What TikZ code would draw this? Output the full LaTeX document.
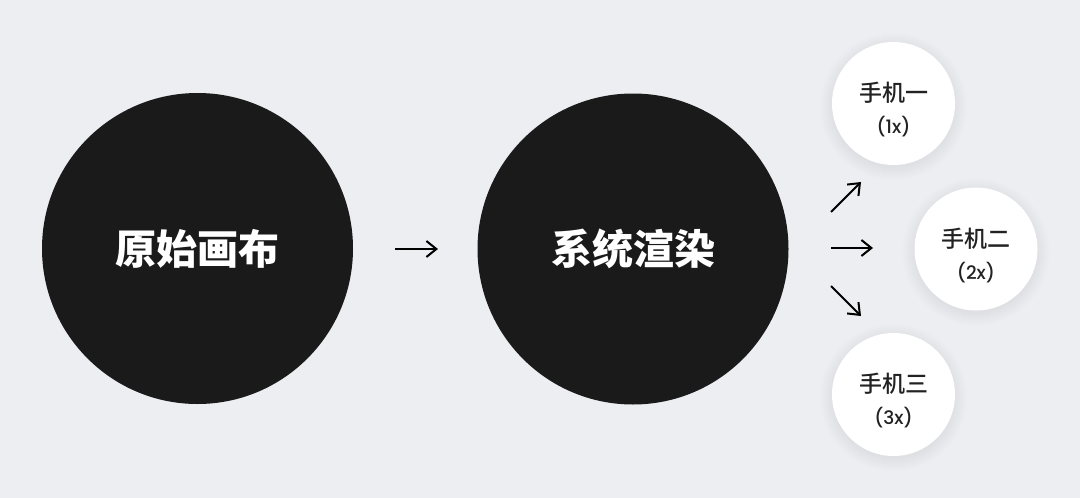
\documentclass[tikz,border=0pt]{standalone}
\usepackage{fontspec}
\usetikzlibrary{arrows.meta}
\newfontfamily\cjk{Noto Sans CJK SC}[UprightFont={* Medium},BoldFont={* Black}]
\newfontfamily\latinfont{Poppins}[UprightFont={* Medium}]
\definecolor{bg}{HTML}{EDEEF2}
\definecolor{dark}{HTML}{1A1A1A}
\definecolor{ink}{HTML}{222222}
\tikzset{
  bigcirc/.style={circle, fill=dark, minimum size=311pt, inner sep=0pt},
  smallcirc/.style={circle, fill=white, minimum size=123pt, inner sep=0pt},
  bigtext/.style={text=white, font=\cjk\bfseries\fontsize{41}{45}\selectfont},
  phonetext/.style={text=ink, font=\cjk\fontsize{23}{26}\selectfont},
  scaletext/.style={text=ink, font=\latinfont\fontsize{18.5}{22}\selectfont},
  arr/.style={draw=black, line width=2pt, -{Straight Barb[length=10pt,width=16pt]}},
}
\begin{document}
\begin{tikzpicture}[x=1pt,y=-1pt]
\useasboundingbox (0,0) rectangle (1080,498);
\fill[bg] (0,0) rectangle (1080,498);
% soft shadows
\foreach \cx/\cy in {893.5/103.5, 976/249, 893.5/394.5}{
  \foreach \r in {1,...,14}{
    \fill[black, opacity=0.005] (\cx,\cy+3) circle (60pt+\r pt);
  }
}
\node[bigcirc] (A) at (197.5,248.5) {};
\node[bigcirc] (B) at (633,249) {};
\node[smallcirc] (P1) at (893.5,103.5) {};
\node[smallcirc] (P2) at (976,249) {};
\node[smallcirc] (P3) at (893.5,394.5) {};
\node[bigtext] (tA) at (A.center) {原始画布};
\node[bigtext] (tB) at (B.center) {系统渲染};
\node[phonetext] (n1) at (893.5,93) {手机一};
\node[scaletext] (s1) at (893.5,127) {(1x)};
\node[phonetext] (n2) at (976,238.5) {手机二};
\node[scaletext] (s2) at (976,272.5) {(2x)};
\node[phonetext] (n3) at (893.5,384) {手机三};
\node[scaletext] (s3) at (893.5,418) {(3x)};
\coordinate (a1) at (395,249);
\coordinate (a2) at (438,249);
\coordinate (b1) at (831,248);
\coordinate (b2) at (873,248);
\coordinate (c1) at (831,212);
\coordinate (c2) at (861,182);
\coordinate (d1) at (831,286);
\coordinate (d2) at (861,316);
\draw[arr] (a1) -- (a2);
\draw[arr] (b1) -- (b2);
\draw[arr] (c1) -- (c2);
\draw[arr] (d1) -- (d2);
\end{tikzpicture}
\end{document}
